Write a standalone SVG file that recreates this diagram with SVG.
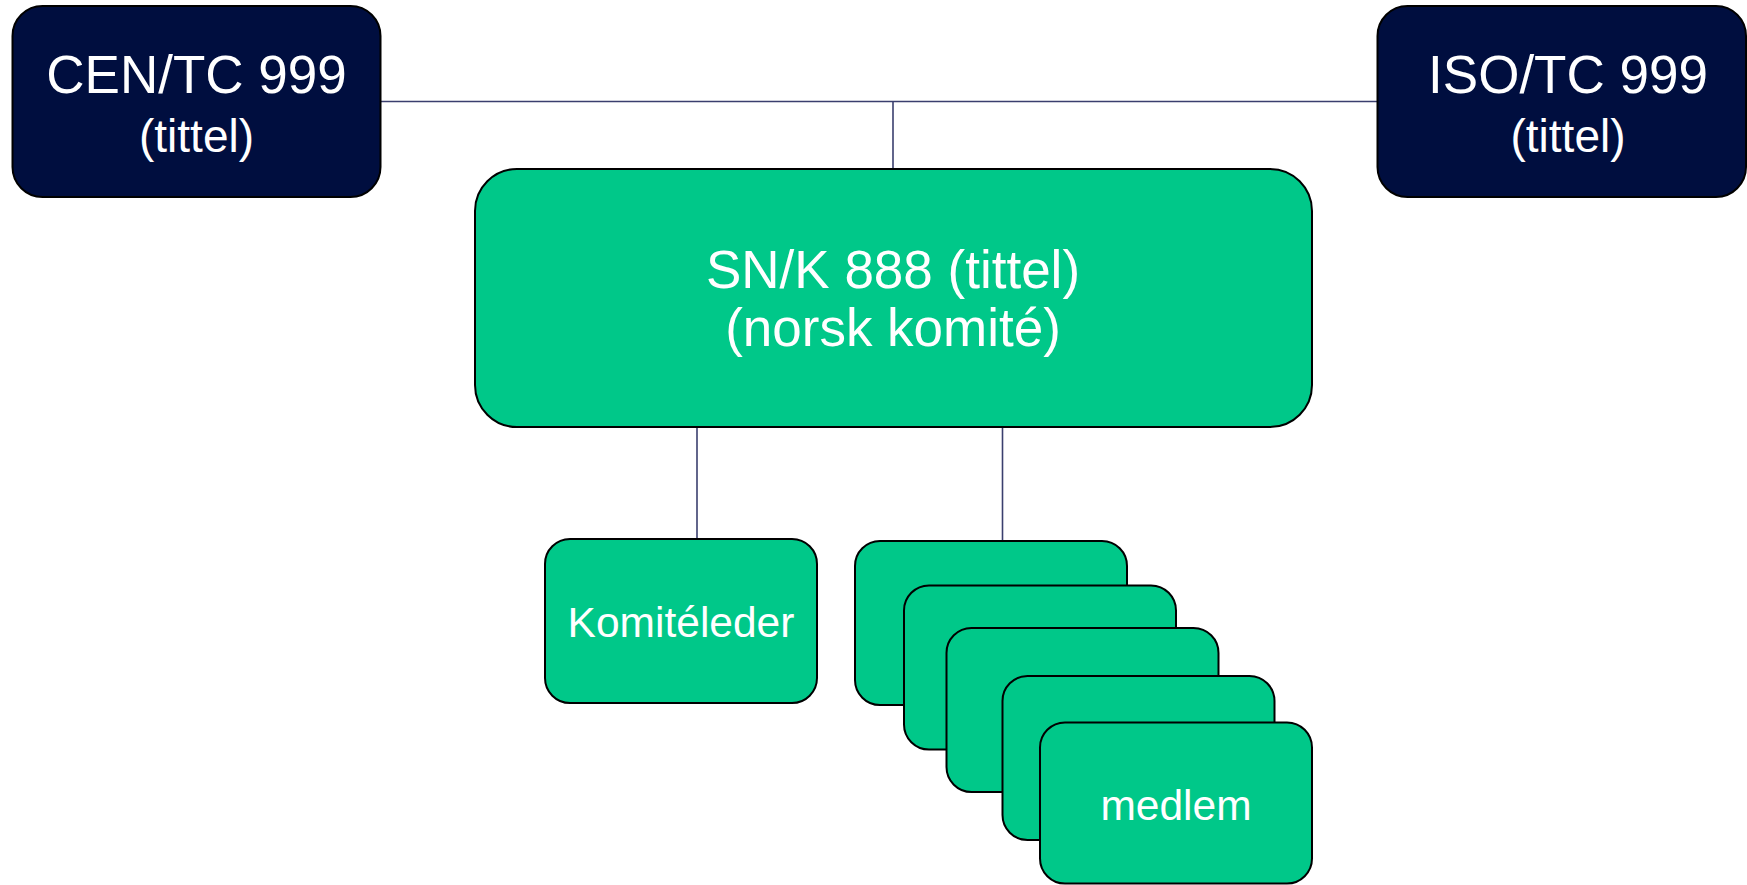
<svg xmlns="http://www.w3.org/2000/svg" width="1747" height="885" viewBox="0 0 1747 885">
<style>
.navy{fill:#000e3f;stroke:#000;stroke-width:2}
.green{fill:#00c889;stroke:#000;stroke-width:2}
.conn{stroke:#3a3f6e;stroke-width:1.6;fill:none}
text{font-family:"Liberation Sans",Arial,sans-serif;fill:#fff;text-anchor:middle}
.big{font-size:53px}
.mid{font-size:46px}
.small{font-size:42.5px}
</style>
<rect width="1747" height="885" fill="#fff"/>
<g id="connectors">
<line class="conn" x1="380" y1="101.5" x2="1378" y2="101.5"/>
<line class="conn" x1="893" y1="101.5" x2="893" y2="169"/>
<line class="conn" x1="697" y1="427" x2="697" y2="539"/>
<line class="conn" x1="1002.5" y1="427" x2="1002.5" y2="541"/>
</g>
<g id="cen">
<rect class="navy" x="12.5" y="6" width="368" height="191" rx="30" ry="30"/>
<text class="big" x="196.5" y="93">CEN/TC 999</text>
<text class="mid" x="196.5" y="152">(tittel)</text>
</g>
<g id="iso">
<rect class="navy" x="1377.5" y="6" width="368.5" height="191" rx="30" ry="30"/>
<text class="big" x="1568" y="93">ISO/TC 999</text>
<text class="mid" x="1568" y="152">(tittel)</text>
</g>
<g id="snk">
<rect class="green" x="475" y="169" width="837" height="258" rx="42" ry="42"/>
<text class="big" x="893" y="288">SN/K 888 (tittel)</text>
<text class="big" x="893" y="346">(norsk komité)</text>
</g>
<g id="komiteleder">
<rect class="green" x="545" y="539" width="272" height="164" rx="25" ry="25"/>
<text class="small" x="681" y="637">Komitéleder</text>
</g>
<g id="member1"><rect class="green" x="855" y="541" width="272" height="164" rx="25" ry="25"/></g>
<g id="member2"><rect class="green" x="904" y="585.5" width="272" height="164" rx="25" ry="25"/></g>
<g id="member3"><rect class="green" x="946.5" y="628" width="272" height="164" rx="25" ry="25"/></g>
<g id="member4"><rect class="green" x="1002.5" y="676" width="272" height="164" rx="25" ry="25"/></g>
<g id="member5">
<rect class="green" x="1040" y="722.5" width="272" height="161" rx="25" ry="25"/>
<text class="small" x="1176" y="820">medlem</text>
</g>
</svg>
